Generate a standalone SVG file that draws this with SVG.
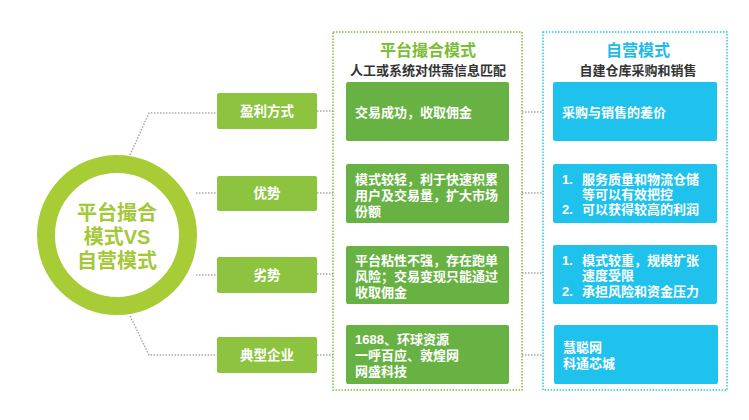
<svg xmlns="http://www.w3.org/2000/svg" width="749" height="420" viewBox="0 0 749 420">
<style>
text{font-family:"Liberation Sans","Noto Sans CJK SC",sans-serif;font-weight:bold}
.conn{fill:none;stroke:#a8a8a8;stroke-width:1.5;stroke-dasharray:1.5 1.5}
.lbox{fill:#8cc43f}
.gbox{fill:#67b243}
.bbox{fill:#1fc2ed}
.lt{fill:#fff;font-size:13.5px;text-anchor:middle}
.ct{fill:#fff;font-size:13px}
.sub{fill:#333;font-size:13px;text-anchor:middle}
</style>
<rect width="749" height="420" fill="#fff"/>
<g id="connectors">
<polyline class="conn" points="130,155 149,113 217,113"/>
<line class="conn" x1="196" y1="193" x2="217" y2="193"/>
<line class="conn" x1="196" y1="275" x2="217" y2="275"/>
<polyline class="conn" points="130,316 149,355 217,355"/>
<line class="conn" x1="317" y1="111" x2="333" y2="111"/>
<line class="conn" x1="317" y1="193" x2="333" y2="193"/>
<line class="conn" x1="317" y1="274" x2="333" y2="274"/>
<line class="conn" x1="317" y1="355" x2="333" y2="355"/>
<line class="conn" x1="522" y1="112" x2="543" y2="112"/>
<line class="conn" x1="522" y1="193" x2="543" y2="193"/>
<line class="conn" x1="522" y1="273" x2="543" y2="273"/>
<line class="conn" x1="522" y1="355" x2="543" y2="355"/>
</g>
<g id="center">
<circle cx="117" cy="235" r="71" fill="#fff" stroke="#a8cc36" stroke-width="18"/>
<text x="117" y="220" font-size="20" fill="#a4c838" text-anchor="middle">平台撮合</text>
<text x="117" y="244" font-size="20" fill="#a4c838" text-anchor="middle">模式VS</text>
<text x="117" y="268" font-size="20" fill="#a4c838" text-anchor="middle">自营模式</text>
</g>
<g id="label-profit"><rect class="lbox" x="217" y="93" width="100" height="36" rx="2"/><text class="lt" x="267" y="116">盈利方式</text></g>
<g id="label-adv"><rect class="lbox" x="217" y="176" width="100" height="35" rx="2"/><text class="lt" x="267" y="198">优势</text></g>
<g id="label-dis"><rect class="lbox" x="217" y="257" width="100" height="36" rx="2"/><text class="lt" x="267" y="280">劣势</text></g>
<g id="label-ent"><rect class="lbox" x="217" y="337" width="100" height="36" rx="2"/><text class="lt" x="267" y="360">典型企业</text></g>
<g id="platform">
<rect x="333" y="32" width="189" height="358" fill="none" stroke="#7cbf3c" stroke-width="1.5" stroke-dasharray="1.5 1.5"/>
<text x="428" y="56" font-size="16" fill="#7bbd33" text-anchor="middle">平台撮合模式</text>
<text class="sub" x="428" y="75">人工或系统对供需信息匹配</text>
</g>
<g id="p-profit"><rect class="gbox" x="346" y="82" width="163" height="59" rx="2"/><text class="ct" x="355" y="117">交易成功，收取佣金</text></g>
<g id="p-adv"><rect class="gbox" x="346" y="164" width="163" height="59" rx="2"/><text class="ct" x="355" y="184">模式较轻，利于快速积累</text><text class="ct" x="355" y="200">用户及交易量，扩大市场</text><text class="ct" x="355" y="216">份额</text></g>
<g id="p-dis"><rect class="gbox" x="346" y="246" width="163" height="58" rx="2"/><text class="ct" x="355" y="265">平台粘性不强，存在跑单</text><text class="ct" x="355" y="281">风险；交易变现只能通过</text><text class="ct" x="355" y="297">收取佣金</text></g>
<g id="p-ent"><rect class="gbox" x="346" y="325" width="163" height="59" rx="2"/><text class="ct" x="355" y="344">1688、环球资源</text><text class="ct" x="355" y="360">一呼百应、敦煌网</text><text class="ct" x="355" y="376">网盛科技</text></g>
<g id="self">
<rect x="543" y="32" width="184" height="358" fill="none" stroke="#2ec3ea" stroke-width="1.5" stroke-dasharray="1.5 1.5"/>
<text x="638" y="56" font-size="16" fill="#1fbbe8" text-anchor="middle">自营模式</text>
<text class="sub" x="638" y="75">自建仓库采购和销售</text>
</g>
<g id="s-profit"><rect class="bbox" x="553" y="82" width="164" height="59" rx="2"/><text class="ct" x="562" y="117">采购与销售的差价</text></g>
<g id="s-adv"><rect class="bbox" x="553" y="164" width="164" height="59" rx="2"/><text class="ct" x="562" y="184">1.</text><text class="ct" x="582" y="184">服务质量和物流仓储</text><text class="ct" x="582" y="199">等可以有效把控</text><text class="ct" x="562" y="214">2.</text><text class="ct" x="582" y="214">可以获得较高的利润</text></g>
<g id="s-dis"><rect class="bbox" x="553" y="245" width="164" height="59" rx="2"/><text class="ct" x="562" y="265">1.</text><text class="ct" x="582" y="265">模式较重，规模扩张</text><text class="ct" x="582" y="280">速度受限</text><text class="ct" x="562" y="296">2.</text><text class="ct" x="582" y="296">承担风险和资金压力</text></g>
<g id="s-ent"><rect class="bbox" x="554" y="325" width="164" height="59" rx="2"/><text class="ct" x="563" y="352">慧聪网</text><text class="ct" x="563" y="368">科通芯城</text></g>
</svg>
